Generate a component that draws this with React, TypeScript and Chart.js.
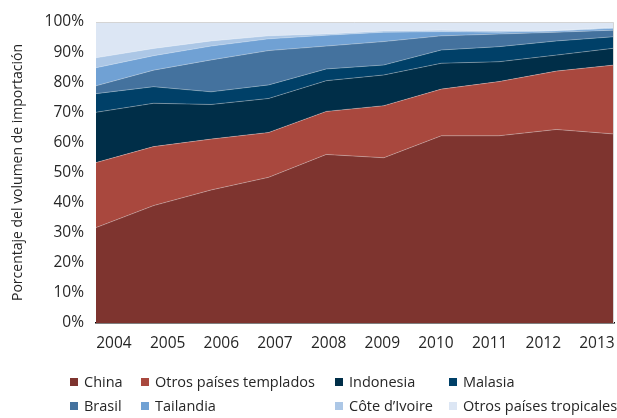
import React, { useEffect, useRef } from 'react';
import { Chart, registerables } from 'chart.js';

Chart.register(...registerables);

const years = ['2004', '2005', '2006', '2007', '2008', '2009', '2010', '2011', '2012', '2013'];
const yearNumbers = [2004, 2005, 2006, 2007, 2008, 2009, 2010, 2011, 2012, 2013];
const yTicks = [0, 10, 20, 30, 40, 50, 60, 70, 80, 90, 100];

const china = [31.7, 39.0, 44.2, 48.4, 56.0, 54.9, 62.2, 62.2, 64.3, 62.8];
const otrosTemplados = [21.6, 19.6, 16.9, 14.9, 14.3, 17.3, 15.5, 18.0, 19.4, 22.9];
const indonesia = [16.7, 14.4, 11.5, 11.3, 10.2, 10.2, 8.6, 6.6, 5.3, 5.6];
const malasia = [6.2, 5.5, 4.2, 4.5, 3.9, 3.3, 4.4, 5.0, 4.7, 3.8];
const brasil = [2.6, 5.5, 10.6, 11.4, 7.6, 7.8, 4.7, 4.2, 2.9, 2.2];
const tailandia = [6.0, 4.8, 4.6, 3.9, 3.6, 3.1, 1.4, 0.6, 0.4, 0.6];
const coteDIvoire = [3.3, 2.4, 1.7, 1.0, 0.4, 0.4, 0.5, 0.4, 0.2, 0.3];
const otrosTropicales = [11.9, 8.8, 6.3, 4.6, 4.0, 3.0, 2.7, 3.0, 2.8, 1.8];

const seriesNames = [
  'China',
  'Otros países templados',
  'Indonesia',
  'Malasia',
  'Brasil',
  'Tailandia',
  'Côte d’Ivoire',
  'Otros países tropicales',
];
const seriesData = [china, otrosTemplados, indonesia, malasia, brasil, tailandia, coteDIvoire, otrosTropicales];
const seriesColors = ['#7e342f', '#a9483e', '#002e48', '#004068', '#44729e', '#70a1d4', '#acc7e6', '#dce6f4'];

const yTitle = 'Porcentaje del volumen de importación';
const FONT = '"Open Sans", sans-serif';
const TEXT = '#262626';

export default function App() {
  const ref = useRef<HTMLCanvasElement>(null);

  useEffect(() => {
    document.body.style.margin = '0';
    const canvas = ref.current;
    if (!canvas) return;

    const frameAndLegend = {
      id: 'frameAndLegend',
      afterDatasetsDraw(chart: any) {
        const { ctx, chartArea } = chart;
        ctx.save();
        ctx.strokeStyle = '#d4d4d4';
        ctx.lineWidth = 1;
        ctx.beginPath();
        ctx.moveTo(chartArea.left, chartArea.top + 0.5);
        ctx.lineTo(chartArea.right - 0.5, chartArea.top + 0.5);
        ctx.lineTo(chartArea.right - 0.5, chartArea.bottom);
        ctx.stroke();
        ctx.restore();
      },
      afterDraw(chart: any) {
        const ctx = chart.ctx;
        const colX = [70, 141, 335, 449];
        const rowY = [383, 407];
        ctx.save();
        ctx.font = '14.5px ' + FONT;
        ctx.textBaseline = 'middle';
        ctx.textAlign = 'left';
        seriesNames.forEach((name, i) => {
          const x = colX[i % 4];
          const y = rowY[Math.floor(i / 4)];
          ctx.fillStyle = seriesColors[i];
          ctx.fillRect(x, y - 5, 8, 8);
          ctx.fillStyle = TEXT;
          ctx.fillText(name, x + 14, y);
        });
        ctx.restore();
      },
    };

    const chart = new Chart(canvas, {
      type: 'line',
      data: {
        labels: years,
        datasets: seriesData.map((d, i) => ({
          label: seriesNames[i],
          data: d,
          backgroundColor: seriesColors[i],
          borderColor: 'rgba(255,255,255,0.28)',
          borderWidth: 1,
          fill: i === 0 ? 'origin' : '-1',
          pointRadius: 0,
          tension: 0,
        })),
      },
      options: {
        animation: false,
        responsive: false,
        devicePixelRatio: 1,
        layout: { padding: { top: 22, right: 3, bottom: 0, left: 0 } },
        plugins: {
          legend: { display: false },
          tooltip: { enabled: false },
        },
        scales: {
          x: {
            type: 'category',
            offset: false,
            weight: 0,
            grid: { display: false, drawTicks: false },
            border: { display: true, color: '#000', width: 1.5 },
            ticks: { display: false },
            afterFit: (s: any) => {
              s.height = 0;
              s.paddingLeft = 0;
              s.paddingRight = 0;
            },
          },
          xl: {
            type: 'linear',
            position: 'bottom',
            weight: 1,
            min: 2003.665,
            max: 2013.317,
            grid: { display: false, drawTicks: false },
            border: { display: false },
            afterBuildTicks: (s: any) => {
              s.ticks = yearNumbers.map((v) => ({ value: v }));
            },
            ticks: {
              autoSkip: false,
              maxRotation: 0,
              padding: 11,
              color: TEXT,
              font: { family: FONT, size: 15.5 },
              callback: (v: any) => String(v),
            },
            afterFit: (s: any) => {
              s.height = 95;
              s.paddingLeft = 0;
              s.paddingRight = 0;
            },
          },
          y: {
            stacked: true,
            min: 0,
            max: 100,
            grid: { display: false, drawTicks: false },
            border: { display: false },
            afterBuildTicks: (s: any) => {
              s.ticks = yTicks.map((v) => ({ value: v }));
            },
            ticks: {
              padding: 12,
              color: TEXT,
              font: { family: FONT, size: 15.5 },
              callback: (v: any) => v + '%',
            },
            title: {
              display: true,
              text: yTitle,
              color: TEXT,
              font: { family: FONT, size: 14 },
              padding: { top: 9.6, bottom: 0 },
            },
            afterFit: (s: any) => {
              s.width = 96;
            },
          },
        },
      },
      plugins: [frameAndLegend],
    } as any);

    return () => chart.destroy();
  }, []);

  return (
    <div style={{ width: 617, height: 418 }}>
      <canvas ref={ref} width={617} height={418} style={{ display: 'block' }} />
    </div>
  );
}
